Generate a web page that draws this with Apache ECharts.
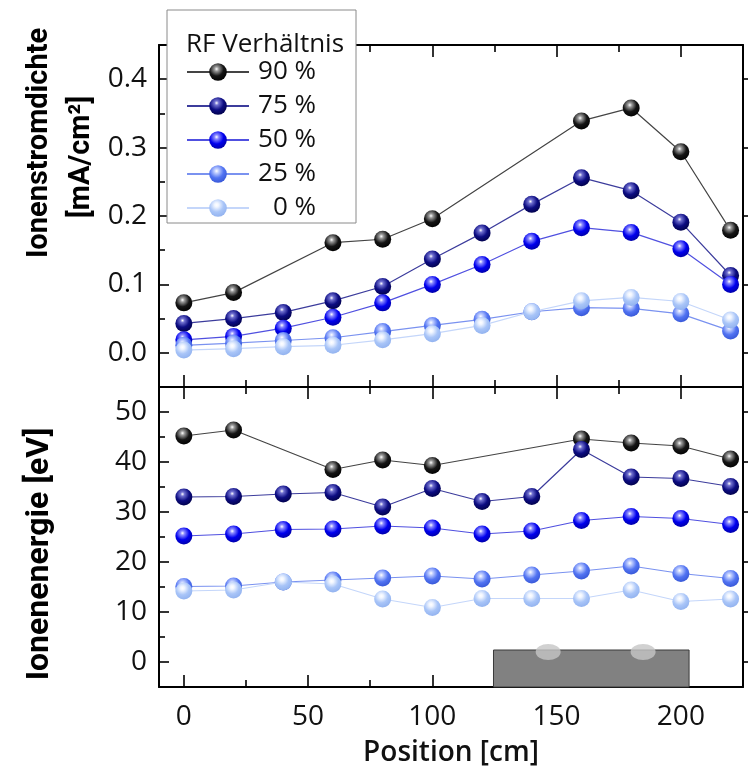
<!DOCTYPE html>
<html><head><meta charset="utf-8">
<script src="https://cdn.jsdelivr.net/npm/echarts@6/dist/echarts.min.js"></script>
<style>html,body{margin:0;padding:0;background:#fff}#c{width:748px;height:778px}</style>
</head><body><div id="c"></div>
<script>
// ---- data ----
const positions = [0, 20, 40, 60, 80, 100, 120, 140, 160, 180, 200, 220];
const seriesNames = ['90 %', '75 %', '50 %', '25 %', '0 %'];
// Ionenstromdichte [mA/cm^2]
const j90 = [0.073, 0.088, null, 0.161, 0.166, 0.196, null, null, 0.339, 0.358, 0.294, 0.179];
const j75 = [0.043, 0.050, 0.059, 0.076, 0.097, 0.137, 0.175, 0.217, 0.256, 0.237, 0.191, 0.113];
const j50 = [0.019, 0.024, 0.036, 0.052, 0.073, 0.100, 0.129, 0.163, 0.183, 0.176, 0.152, 0.100];
const j25 = [0.011, 0.014, 0.018, 0.022, 0.031, 0.040, 0.049, 0.060, 0.066, 0.065, 0.057, 0.032];
const j0  = [0.004, 0.006, 0.009, 0.011, 0.019, 0.028, 0.040, 0.060, 0.076, 0.081, 0.075, 0.048];
// Ionenenergie [eV]
const e90 = [45.2, 46.4, null, 38.5, 40.4, 39.3, null, null, 44.6, 43.8, 43.2, 40.6];
const e75 = [33.0, 33.1, 33.6, 33.9, 31.0, 34.7, 32.1, 33.1, 42.5, 37.0, 36.7, 35.1];
const e50 = [25.2, 25.6, 26.5, 26.6, 27.2, 26.8, 25.6, 26.2, 28.3, 29.1, 28.7, 27.5];
const e25 = [15.1, 15.2, 16.0, 16.4, 16.8, 17.2, 16.6, 17.4, 18.2, 19.2, 17.7, 16.7];
const e0  = [14.2, 14.4, 16.0, 15.6, 12.6, 10.9, 12.7, 12.7, 12.7, 14.4, 12.1, 12.6];
// tick values
const xTicks = [0, 50, 100, 150, 200];
const xMinor = [25, 75, 125, 175, 225];
const jTicks = [0, 0.1, 0.2, 0.3, 0.4];
const jMinor = [0.05, 0.15, 0.25, 0.35];
const eTicks = [0, 10, 20, 30, 40, 50];
const eMinor = [5, 15, 25, 35, 45];
// substrate sketch (x0, x1, y0, y1 in data units) and the two light spots on it
const substrate = [[124.6, 203.3, -5, 2.4]];
const spots = [[146.6, 2.0], [184.8, 2.0]];

// ---- styling ----
const palette = [
  {light: '#9a9a9a', base: '#151515', dark: '#000000', line: '#444444'},
  {light: '#7070d0', base: '#0c0c82', dark: '#000045', line: '#3c3c9c'},
  {light: '#8a8aff', base: '#0000ee', dark: '#0000a0', line: '#5050e0'},
  {light: '#c0ceff', base: '#5274f2', dark: '#3454d4', line: '#7a92f0'},
  {light: '#f0f5ff', base: '#a9c5f8', dark: '#8fb0ee', line: '#c4d6fa'}
];
function sphere(p) {
  return {type: 'radial', x: 0.42, y: 0.33, r: 0.72, colorStops: [
    {offset: 0, color: '#ffffff'}, {offset: 0.17, color: p.light},
    {offset: 0.55, color: p.base}, {offset: 1, color: p.dark}]};
}
function pairs(vals) {
  const out = [];
  vals.forEach((v, i) => { if (v !== null) out.push([positions[i], v]); });
  return out;
}
const topData = [j90, j75, j50, j25, j0];
const botData = [e90, e75, e50, e25, e0];

const X_MIN = -10, X_MAX = 225;
const J_MIN = -0.05, J_MAX = 0.45;
const E_MIN = -5, E_MAX = 55;
const FONT = 'Open Sans';
const AX = {color: '#000', width: 2};

function xAxis(grid, pos, vals, len, inside, line, extra) {
  return Object.assign({
    type: 'value', gridIndex: grid, position: pos, min: X_MIN, max: X_MAX,
    axisLine: {show: line, onZero: false, lineStyle: AX},
    axisTick: {show: true, inside: inside, length: len, customValues: vals, lineStyle: {color: '#000', width: 1.6}},
    axisLabel: {show: false}, splitLine: {show: false}
  }, extra || {});
}
function yAxis(grid, pos, mn, mx, vals, len, inside, line, extra) {
  return Object.assign({
    type: 'value', gridIndex: grid, position: pos, min: mn, max: mx,
    axisLine: {show: line, onZero: false, lineStyle: AX},
    axisTick: {show: true, inside: inside, length: len, customValues: vals, lineStyle: {color: '#000', width: 1.6}},
    axisLabel: {show: false}, splitLine: {show: false}
  }, extra || {});
}

const series = [];
seriesNames.forEach((name, k) => {
  const p = palette[k];
  const common = {
    type: 'line', name: name, symbol: 'circle', symbolSize: 17,
    itemStyle: {color: sphere(p), borderWidth: 0},
    lineStyle: {color: p.line, width: 1.2},
    emphasis: {disabled: true}, z: 3 + k
  };
  series.push(Object.assign({}, common, {xAxisIndex: 0, yAxisIndex: 0, data: pairs(topData[k])}));
  series.push(Object.assign({}, common, {xAxisIndex: 4, yAxisIndex: 3, data: pairs(botData[k])}));
});
series.push({
  type: 'custom', xAxisIndex: 4, yAxisIndex: 3, data: substrate, z: 1,
  encode: {x: [0, 1], y: [2, 3]},
  renderItem: function (params, api) {
    const p0 = api.coord([api.value(0), api.value(3)]);
    const p1 = api.coord([api.value(1), api.value(2)]);
    return {type: 'rect', shape: {x: p0[0], y: p0[1], width: p1[0] - p0[0], height: p1[1] - p0[1]},
      style: {fill: '#818181', stroke: '#3a3a3a', lineWidth: 1}};
  }
});
series.push({
  type: 'scatter', xAxisIndex: 4, yAxisIndex: 3, data: spots, z: 2,
  symbol: 'circle', symbolSize: [25, 16], itemStyle: {color: '#c6c6c6'}, emphasis: {disabled: true}
});

const chart = echarts.init(document.getElementById('c'), null, {renderer: 'canvas'});
chart.setOption({
  animation: false,
  backgroundColor: '#fff',
  grid: [
    {left: 159, right: 5, top: 45, height: 342},
    {left: 159, right: 5, top: 387, height: 300}
  ],
  title: {text: 'RF Verhältnis', left: 186, top: 32, padding: 0, z: 10,
    textStyle: {fontFamily: FONT, fontSize: 26, fontWeight: 'normal', color: '#111'}},
  legend: {
    data: seriesNames, orient: 'vertical', left: 167, top: 10,
    padding: [49, 40, 2, 19], itemWidth: 62, itemHeight: 22, itemGap: 8,
    backgroundColor: '#fff', borderColor: '#8a8a8a', borderWidth: 1,
    selectedMode: false,
    formatter: n => '{r|' + n + '}',
    textStyle: {fontFamily: FONT, fontSize: 26, color: '#111', lineHeight: 22,
      rich: {r: {width: 62, height: 22, align: 'right', fontFamily: FONT, fontSize: 26, color: '#111', lineHeight: 22}}}
  },
  xAxis: [
    xAxis(0, 'bottom', xTicks, 12, true, true),
    xAxis(0, 'bottom', xMinor, 7, true, false),
    xAxis(0, 'top', xTicks, 12, true, true),
    xAxis(0, 'top', xMinor, 7, true, false),
    xAxis(1, 'bottom', xTicks, 12, true, true, {
      axisLabel: {show: true, customValues: xTicks, fontFamily: FONT, fontSize: 28, color: '#111', margin: 16},
      name: 'Position [cm]', nameLocation: 'middle', nameGap: 52,
      nameTextStyle: {fontFamily: FONT, fontSize: 28, fontWeight: 600, color: '#111'}
    }),
    xAxis(1, 'bottom', xMinor, 7, true, false),
    xAxis(1, 'top', xTicks, 12, true, true),
    xAxis(1, 'top', xMinor, 7, true, false)
  ],
  yAxis: [
    yAxis(0, 'left', J_MIN, J_MAX, jTicks, 10, true, true, {
      axisLabel: {show: true, customValues: jTicks, formatter: v => v.toFixed(1),
        fontFamily: FONT, fontSize: 28, color: '#111', margin: 12}
    }),
    yAxis(0, 'left', J_MIN, J_MAX, jMinor, 6, true, false),
    yAxis(0, 'right', J_MIN, J_MAX, jTicks, 5, false, true),
    yAxis(1, 'left', E_MIN, E_MAX, eTicks, 10, true, true, {
      axisLabel: {show: true, customValues: eTicks, fontFamily: FONT, fontSize: 28, color: '#111', margin: 12}
    }),
    yAxis(1, 'left', E_MIN, E_MAX, eMinor, 6, true, false),
    yAxis(1, 'right', E_MIN, E_MAX, eTicks, 5, false, true)
  ],
  graphic: [
    {type: 'text', x: 40, y: 143, rotation: Math.PI / 2, z: 10,
      style: {text: 'Ionenstromdichte', font: 'bold 29px Roboto', fill: '#000', align: 'center', verticalAlign: 'middle'}},
    {type: 'text', x: 82, y: 157, rotation: Math.PI / 2, z: 10,
      style: {text: '[mA/cm²]', font: 'bold 29px Roboto', fill: '#000', align: 'center', verticalAlign: 'middle'}},
    {type: 'text', x: 40, y: 554, rotation: Math.PI / 2, z: 10,
      style: {text: 'Ionenenergie [eV]', font: 'bold 32px Roboto', fill: '#000', align: 'center', verticalAlign: 'middle'}}
  ],
  series: series
});
</script></body></html>
